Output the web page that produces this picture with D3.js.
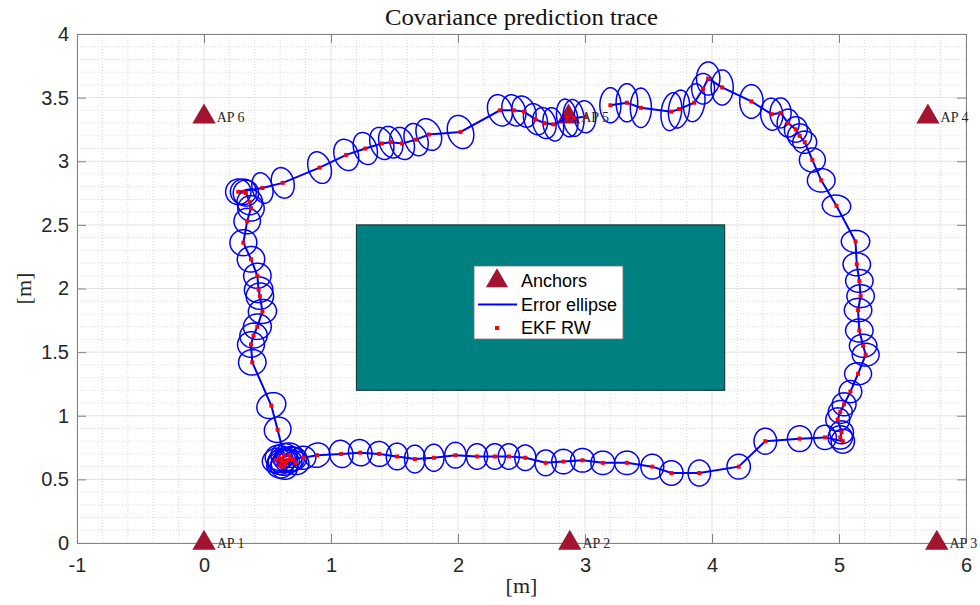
<html>
<head>
<meta charset="utf-8">
<script src="https://d3js.org/d3.v7.min.js"></script>
<style>
  body { margin: 0; background: #fff; }
  text { font-family: "Liberation Sans", Arial, sans-serif; }
  .serif { font-family: "Liberation Serif", "DejaVu Serif", serif; }
</style>
</head>
<body>
<div id="chartDiv1"></div>
<script>

// estimated track points (m)
const trackX = [3.20,3.33,3.44,3.68,3.74,3.86,3.93,3.97,4.08,4.31,4.47,4.54,4.60,4.66,4.69,4.73,4.79,4.86,4.98,5.13,
  5.14,5.16,5.17,5.15,5.16,5.19,5.21,5.15,5.09,5.04,5.01,4.99,5.02,5.01,5.03,4.89,4.69,4.42,4.21,3.90,
  3.68,3.53,3.33,3.14,2.98,2.83,2.69,2.53,2.40,2.29,2.15,1.98,1.81,1.66,1.52,1.38,1.23,1.08,0.89,0.78,
  0.68,0.62,0.59,0.64,0.60,0.66,0.70,0.63,0.57,0.67,0.72,0.61,0.63,0.58,0.53,0.38,0.37,0.39,0.42,0.46,
  0.44,0.43,0.42,0.37,0.31,0.34,0.37,0.36,0.33,0.31,0.27,0.46,0.62,0.91,1.12,1.27,1.40,1.47,1.56,1.67,
  1.77,2.02,2.33,2.44,2.52,2.61,2.68,2.75,2.86,2.91,3.00];
const trackY = [3.44,3.46,3.42,3.39,3.41,3.46,3.57,3.65,3.58,3.47,3.37,3.38,3.30,3.25,3.20,3.15,3.01,2.85,2.65,2.37,
  2.19,2.06,1.94,1.83,1.67,1.55,1.48,1.33,1.19,1.09,1.03,0.97,0.87,0.83,0.80,0.83,0.82,0.80,0.60,0.55,
  0.55,0.60,0.63,0.63,0.65,0.64,0.63,0.67,0.68,0.68,0.68,0.69,0.67,0.66,0.68,0.70,0.71,0.70,0.69,0.67,
  0.66,0.65,0.67,0.63,0.61,0.65,0.66,0.60,0.65,0.69,0.63,0.64,0.69,0.89,1.08,1.42,1.56,1.63,1.70,1.82,
  1.94,1.99,2.10,2.23,2.36,2.53,2.63,2.68,2.75,2.76,2.76,2.79,2.83,2.95,3.05,3.10,3.14,3.15,3.14,3.17,
  3.21,3.23,3.40,3.40,3.39,3.33,3.30,3.29,3.34,3.34,3.35];

// error ellipse semi axes (m) and tilt (deg, counter clockwise)
const ellA = [0.083,0.085,0.083,0.080,0.082,0.083,0.090,0.092,0.087,0.092,0.087,0.083,0.087,0.090,0.094,0.094,0.102,0.109,0.112,0.112,
  0.108,0.108,0.108,0.108,0.108,0.108,0.106,0.106,0.089,0.094,0.094,0.094,0.094,0.096,0.092,0.089,0.096,0.089,0.092,0.088,
  0.092,0.090,0.097,0.094,0.093,0.092,0.084,0.083,0.083,0.083,0.083,0.084,0.080,0.081,0.085,0.092,0.092,0.092,0.103,0.100,
  0.110,0.115,0.108,0.112,0.106,0.112,0.110,0.108,0.112,0.110,0.106,0.114,0.104,0.106,0.117,0.108,0.106,0.108,0.110,0.111,
  0.108,0.112,0.108,0.108,0.106,0.104,0.104,0.100,0.100,0.102,0.100,0.080,0.088,0.088,0.094,0.090,0.090,0.090,0.092,0.090,
  0.094,0.100,0.094,0.090,0.090,0.090,0.090,0.080,0.082,0.082,0.085];
const ellB = [0.138,0.150,0.155,0.150,0.150,0.150,0.120,0.130,0.138,0.132,0.126,0.118,0.110,0.100,0.094,0.087,0.094,0.092,0.084,0.087,
  0.090,0.090,0.090,0.092,0.090,0.090,0.090,0.087,0.087,0.090,0.090,0.092,0.090,0.092,0.094,0.096,0.101,0.102,0.098,0.102,
  0.096,0.098,0.092,0.092,0.093,0.096,0.101,0.100,0.100,0.100,0.100,0.101,0.106,0.109,0.105,0.098,0.104,0.108,0.094,0.090,
  0.096,0.094,0.098,0.096,0.100,0.094,0.092,0.098,0.094,0.096,0.092,0.098,0.092,0.098,0.098,0.100,0.100,0.098,0.100,0.094,
  0.104,0.100,0.098,0.100,0.102,0.100,0.100,0.100,0.102,0.100,0.100,0.122,0.122,0.128,0.126,0.130,0.130,0.128,0.130,0.130,
  0.130,0.134,0.126,0.126,0.126,0.126,0.124,0.132,0.150,0.145,0.126];
const ellTilt = [0,0,0,-8,-8,-8,0,0,0,0,5,0,0,0,0,0,0,0,-5,0,
  0,0,0,0,0,0,0,0,0,0,0,0,0,0,0,0,0,0,0,0,
  0,0,0,0,0,0,0,0,0,0,0,0,0,0,0,10,15,15,25,0,
  0,10,-10,20,0,-15,10,-20,15,0,-10,25,5,25,25,5,5,5,5,5,
  5,5,5,5,5,5,0,0,0,0,15,15,15,20,20,20,20,20,20,20,
  25,20,20,20,20,20,15,10,10,5,5];

const apX = [0, 2.88, 5.77, 5.70, 2.87, 0];
const apY = [0, 0, 0, 3.35, 3.35, 3.35];
const apNames = ["AP 1","AP 2","AP 3","AP 4","AP 5","AP 6"];

// obstacle in the middle [x0, y0, x1, y1]
const obstacle = [1.2, 1.2, 4.1, 2.5];

const xTicks = [-1,0,1,2,3,4,5,6];
const yTicks = [0,0.5,1,1.5,2,2.5,3,3.5,4];
const legendLabels = ["Anchors","Error ellipse","EKF RW"];

const W = 980, H = 605;
const pL = 77, pR = 966, pT = 34, pB = 543;

const svg = d3.select("#chartDiv1")
  .append("svg")
  .attr("width", W)
  .attr("height", H);

const x = d3.scaleLinear().domain([-1, 6]).range([pL, pR]);
const y = d3.scaleLinear().domain([0, 4]).range([pB, pT]);

// minor grid
const minorX = d3.range(-1, 6.001, 0.2).filter(v => Math.abs(v - Math.round(v)) > 1e-6);
const minorY = d3.range(0, 4.001, 0.1).filter(v => Math.abs(v * 2 - Math.round(v * 2)) > 1e-6);

svg.append("g").selectAll("line").data(minorX).enter().append("line")
  .attr("x1", d => x(d)).attr("x2", d => x(d))
  .attr("y1", pT).attr("y2", pB)
  .attr("stroke", "#d9d9d9").attr("stroke-width", 1).attr("stroke-dasharray", "1,2");
svg.append("g").selectAll("line").data(minorY).enter().append("line")
  .attr("y1", d => y(d)).attr("y2", d => y(d))
  .attr("x1", pL).attr("x2", pR)
  .attr("stroke", "#d9d9d9").attr("stroke-width", 1).attr("stroke-dasharray", "1,2");

// major grid
svg.append("g").selectAll("line").data(xTicks).enter().append("line")
  .attr("x1", d => x(d)).attr("x2", d => x(d))
  .attr("y1", pT).attr("y2", pB)
  .attr("stroke", "#e3e3e3").attr("stroke-width", 1);
svg.append("g").selectAll("line").data(yTicks).enter().append("line")
  .attr("y1", d => y(d)).attr("y2", d => y(d))
  .attr("x1", pL).attr("x2", pR)
  .attr("stroke", "#e3e3e3").attr("stroke-width", 1);

// axes: bottom / left with labels, top / right just ticks
const tickLen = 9;
const fmt = d => String(d);
svg.append("g")
  .attr("transform", "translate(0," + pB + ")")
  .call(d3.axisBottom(x).tickValues(xTicks).tickSize(-tickLen).tickPadding(15).tickFormat(fmt))
  .call(g => g.selectAll("text").attr("font-size", 20).attr("fill", "#262626"));
svg.append("g")
  .attr("transform", "translate(0," + pT + ")")
  .call(d3.axisTop(x).tickValues(xTicks).tickSize(-tickLen).tickFormat(""));
svg.append("g")
  .attr("transform", "translate(" + pL + ",0)")
  .call(d3.axisLeft(y).tickValues(yTicks).tickSize(-tickLen).tickPadding(8).tickFormat(fmt))
  .call(g => g.selectAll("text").attr("font-size", 20).attr("fill", "#262626"));
svg.append("g")
  .attr("transform", "translate(" + pR + ",0)")
  .call(d3.axisRight(y).tickValues(yTicks).tickSize(-tickLen).tickFormat(""));
svg.selectAll(".domain, .tick line").attr("stroke", "#838383");
svg.selectAll(".tick text").attr("font-family", "'Liberation Sans', Arial, sans-serif");

// anchors
const tri = "M0,-13.3L11.7,6.7L-11.7,6.7Z";
svg.append("g").selectAll("path").data(apX).enter().append("path")
  .attr("d", tri)
  .attr("transform", (d, i) => "translate(" + x(d) + "," + y(apY[i]) + ")")
  .attr("fill", "#a2142f");

// obstacle
svg.append("rect")
  .attr("x", x(obstacle[0]))
  .attr("y", y(obstacle[3]))
  .attr("width", x(obstacle[2]) - x(obstacle[0]))
  .attr("height", y(obstacle[1]) - y(obstacle[3]))
  .attr("fill", "#008080")
  .attr("stroke", "#0b2b2b")
  .attr("stroke-width", 1);

// error ellipses
const ellLine = d3.line().x(p => x(p[0])).y(p => y(p[1])).curve(d3.curveLinearClosed);
function ellipsePts(i) {
  const th = ellTilt[i] * Math.PI / 180;
  return d3.range(0, 64).map(k => {
    const t = k / 64 * 2 * Math.PI;
    const ex = ellA[i] * Math.cos(t), ey = ellB[i] * Math.sin(t);
    return [trackX[i] + ex * Math.cos(th) - ey * Math.sin(th),
            trackY[i] + ex * Math.sin(th) + ey * Math.cos(th)];
  });
}
svg.append("g").selectAll("path").data(trackX).enter().append("path")
  .attr("d", (d, i) => ellLine(ellipsePts(i)))
  .attr("fill", "none")
  .attr("stroke", "#0000ff")
  .attr("stroke-width", 1.5);

// track
svg.append("path")
  .datum(trackX.map((d, i) => [d, trackY[i]]))
  .attr("d", d3.line().x(p => x(p[0])).y(p => y(p[1])))
  .attr("fill", "none")
  .attr("stroke", "#0000ff")
  .attr("stroke-width", 2);

svg.append("g").selectAll("rect").data(trackX).enter().append("rect")
  .attr("x", d => x(d) - 2).attr("y", (d, i) => y(trackY[i]) - 2)
  .attr("width", 4).attr("height", 4)
  .attr("fill", "#ff0000");

// anchor labels
svg.append("g").selectAll("text").data(apNames).enter().append("text")
  .attr("class", "serif")
  .attr("x", (d, i) => x(apX[i] + 0.1))
  .attr("y", (d, i) => y(apY[i]))
  .attr("dy", "0.35em")
  .attr("font-size", 14)
  .attr("fill", "#262626")
  .text(d => d);

// title + axis labels
svg.append("text").attr("class", "serif")
  .attr("x", (pL + pR) / 2).attr("y", 25)
  .attr("text-anchor", "middle").attr("font-size", 23).attr("fill", "#111")
  .attr("textLength", 273).attr("lengthAdjust", "spacingAndGlyphs")
  .text("Covariance prediction trace");
svg.append("text").attr("class", "serif")
  .attr("x", (pL + pR) / 2).attr("y", 593)
  .attr("text-anchor", "middle").attr("font-size", 22).attr("fill", "#262626")
  .text("[m]");
svg.append("text").attr("class", "serif")
  .attr("transform", "translate(31," + (pT + pB) / 2 + ") rotate(-90)")
  .attr("text-anchor", "middle").attr("font-size", 22).attr("fill", "#262626")
  .text("[m]");

// legend
const lg = svg.append("g").attr("transform", "translate(474,266)");
lg.append("rect").attr("width", 149).attr("height", 73)
  .attr("fill", "#fff").attr("stroke", "#777").attr("stroke-width", 0.8);
lg.selectAll("text").data(legendLabels).enter().append("text")
  .attr("x", 47).attr("y", (d, i) => 15 + i * 23.5)
  .attr("dy", "0.35em").attr("font-size", 18).attr("fill", "#000")
  .text(d => d);
lg.append("path").attr("d", tri).attr("transform", "translate(23,15) scale(0.95)").attr("fill", "#a2142f");
lg.append("line").attr("x1", 4).attr("x2", 43).attr("y1", 38.5).attr("y2", 38.5)
  .attr("stroke", "#0000ff").attr("stroke-width", 2);
lg.append("rect").attr("x", 21).attr("y", 60).attr("width", 4).attr("height", 4).attr("fill", "#ff0000");

</script>
</body>
</html>
